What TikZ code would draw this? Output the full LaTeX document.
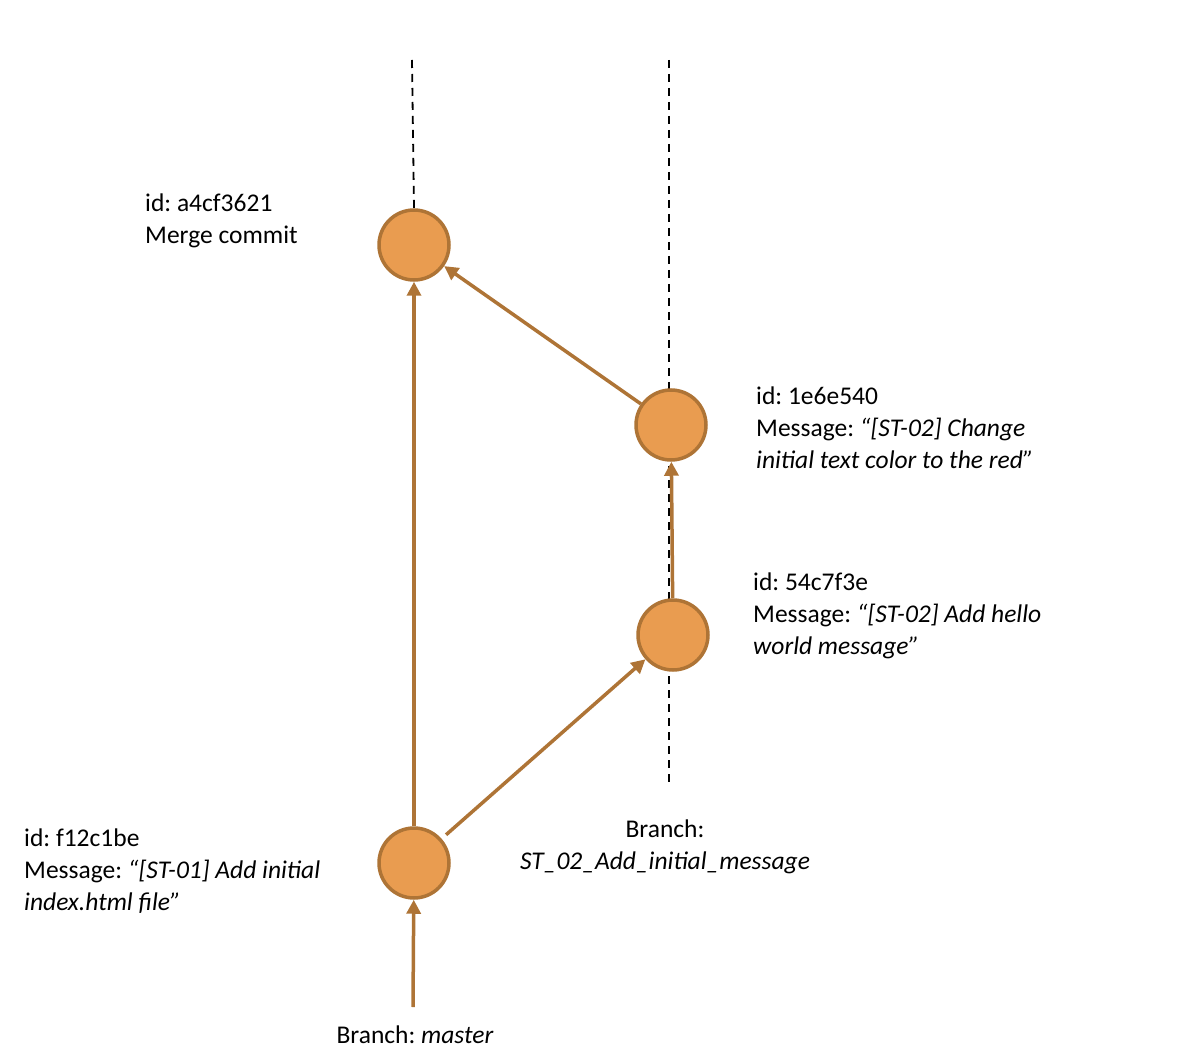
\documentclass[tikz,border=0pt]{standalone}
\usepackage{fontspec}
\setmainfont{Carlito}
\usetikzlibrary{arrows.meta,backgrounds,positioning}
\frenchspacing

\definecolor{commitfill}{HTML}{E99C50}
\definecolor{commitline}{HTML}{AE7436}

\begin{document}
\begin{tikzpicture}[x=1pt,y=-1pt,
        commit/.style={circle,draw=commitline,fill=commitfill,line width=3.5pt,
                minimum size=70pt,inner sep=0pt},
        info/.style={anchor=base west,align=left,inner sep=0pt,
                font=\fontsize{25.5}{32}\selectfont},
        branch/.style={anchor=base,align=center,inner sep=0pt,
                font=\fontsize{25.5}{32}\selectfont},
        parent/.style={draw=commitline,line width=3.5pt,
                -{Triangle[length=14pt,width=14pt]}},
        branchline/.style={draw,line width=1.8pt,dash pattern=on 8pt off 6pt}]
        \useasboundingbox (0,0) rectangle (1183,1056);

        \node[commit] (merge) at (414,245) {};
        \node[commit] (change) at (671,425) {};
        \node[commit] (hello) at (673,635) {};
        \node[commit] (init) at (414,863) {};

        \coordinate (master top) at (412,60);
        \coordinate (feature top) at (669,60);
        \coordinate (feature end) at (669,787);
        \coordinate (master end) at (413,1007);

        \begin{scope}[on background layer]
                \draw[branchline] (master top) -- (merge.north);
                \draw[branchline] (feature top) -- (feature end);
        \end{scope}

        \draw[parent] (init) -- (merge);
        \draw[parent, shorten <=6pt] (init) -- (hello);
        \draw[parent] (hello) -- (change);
        \draw[parent] (change) -- (merge);
        \draw[parent] (master end) -- (init);

        % base anchor sits on the last line
        \node[info] (merge info) at (145,244) {id: a4cf3621\\Merge commit};
        \node[info] (change info) at (756,468)
                {id: 1e6e540\\Message: \textit{“[ST-02] Change}\\\textit{initial text color to the red”}};
        \node[info] (hello info) at (753,654)
                {id: 54c7f3e\\Message: \textit{“[ST-02] Add hello}\\\textit{world message”}};
        \node[info] (init info) at (24,910)
                {id: f12c1be\\Message: \textit{“[ST-01] Add initial}\\\textit{index.html file”}};
        \node[branch] (feature name) at (665,869)
                {Branch:\\\textit{ST\_02\_Add\_initial\_message}};
        \node[branch] (master name) at (415,1043) {Branch: \textit{master}};
\end{tikzpicture}
\end{document}
